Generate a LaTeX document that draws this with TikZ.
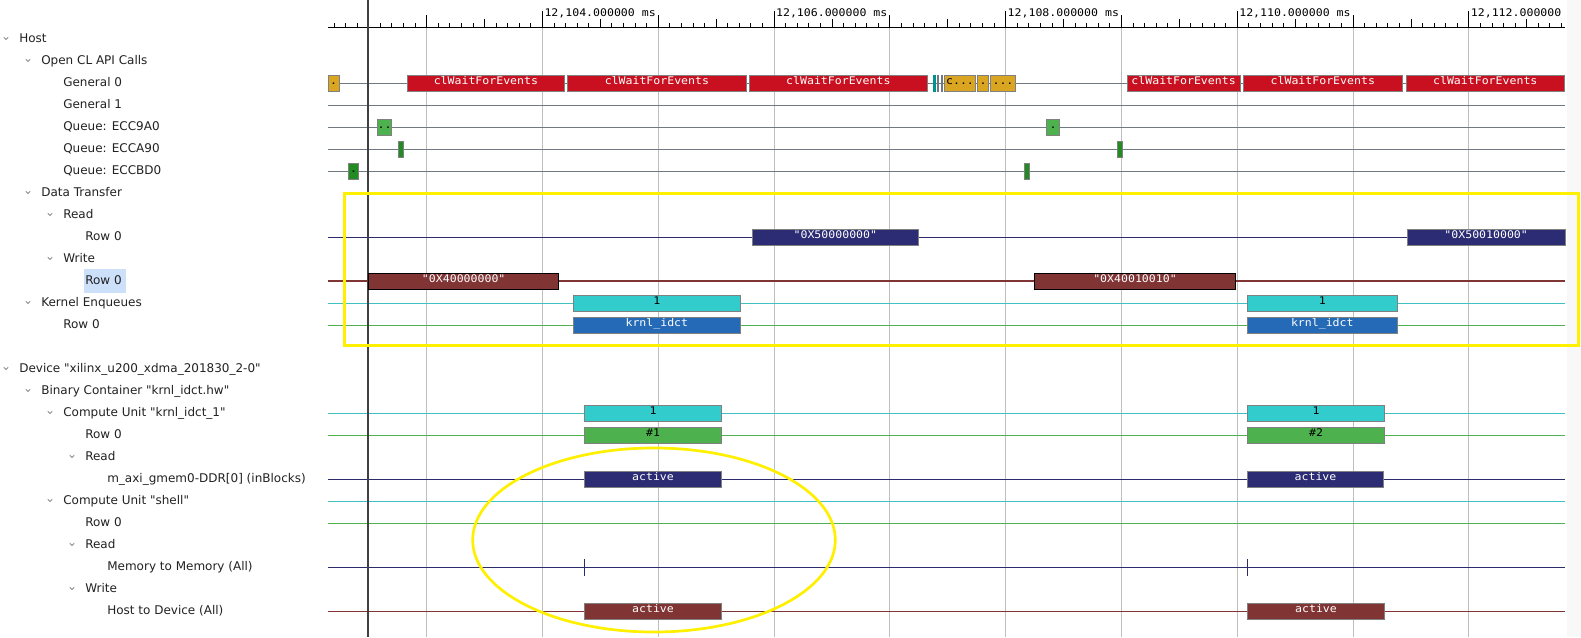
\documentclass[tikz,border=0pt]{standalone}
\usepackage{fontspec}
\setmainfont{DejaVu Sans}[Ligatures=TeXOff]
\newfontfamily\tlmono[FakeStretch=1.1,Ligatures=TeXOff]{DejaVu Sans Mono}

\definecolor{treetext}{RGB}{34,34,34}
\definecolor{chevgray}{RGB}{140,140,140}
\definecolor{gridgray}{RGB}{190,190,190}
\definecolor{cursorgray}{RGB}{64,64,64}
\definecolor{rowgray}{RGB}{112,121,130}
\definecolor{navyline}{RGB}{43,43,110}
\definecolor{navybar}{RGB}{44,44,117}
\definecolor{wine}{RGB}{128,52,52}
\definecolor{cyanline}{RGB}{64,192,192}
\definecolor{cyanbar}{RGB}{51,204,204}
\definecolor{greenline}{RGB}{80,176,80}
\definecolor{greenbar}{RGB}{77,178,77}
\definecolor{forest}{RGB}{34,139,34}
\definecolor{apired}{RGB}{200,16,32}
\definecolor{gold}{RGB}{218,165,32}
\definecolor{kblue}{RGB}{36,106,182}
\definecolor{tealmark}{RGB}{0,145,145}
\definecolor{bargray}{RGB}{128,128,128}
\definecolor{hilite}{RGB}{205,224,250}
\definecolor{annot}{RGB}{255,240,0}
\definecolor{faintpanel}{RGB}{248,248,248}

% one row of the tree on the left: name, row index, depth, has-chevron, label
\newcommand\treerow[5]{%
  \pgfmathsetmacro\tlY{39.3+22*#2}%
  \pgfmathsetmacro\tlX{19.3+22*#3}%
  \ifnum#4=1
    \pgfmathsetmacro\tlC{6+22*#3}%
    \draw[chev] (\tlC-2.2,\tlY-2.1) -- (\tlC,\tlY+0.3) -- (\tlC+2.2,\tlY-2.1);%
  \fi
  \node[treelbl] (#1) at (\tlX,\tlY+3.5) {#5};}

% horizontal track of a timeline row: row index, colour, width
\newcommand\trackline[3]{%
  \draw[draw=#2, line width=#3] (328,{39.3+22*#1}) -- (1565,{39.3+22*#1});}

% an event bar: [border] name, x from, x to, row index, fill, text colour, text
\newcommand\tlbar[8][bargray]{%
  \node[tlbarbox, draw=#1, fill=#6, text=#7, minimum width={(#4-#3)*1pt}]
    (#2) at (#3,{39.3+22*#5}) {#8};}

\begin{document}
\begin{tikzpicture}[x=1pt,y=-1pt,
  treelbl/.style={anchor=base west, inner sep=0pt, outer sep=0pt, text=treetext,
    font=\fontsize{12}{14}\selectfont},
  chev/.style={draw=chevgray, line width=0.8pt, line cap=round, line join=round},
  gridline/.style={draw=gridgray, line width=1pt},
  tickmark/.style={draw=black, line width=1pt},
  axislbl/.style={anchor=base west, inner sep=0pt, outer sep=0pt, text=black,
    font=\tlmono\fontsize{10.5}{12}\selectfont},
  tlbarbox/.style={anchor=west, rectangle, line width=0.9pt, inner sep=0pt, outer sep=0pt,
    minimum height=16pt, text height=9.5pt, text depth=6.5pt,
    font=\tlmono\fontsize{10.5}{12}\selectfont},
  annotline/.style={draw=annot, line width=2.7pt},
]
\useasboundingbox (0,0) rectangle (1581,637);
\fill[white] (0,0) rectangle (1581,637);
\fill[faintpanel] (1567,0) rectangle (1581,637);

% ---------- time axis ----------
\foreach \m in {3,...,12}{
  \draw[gridline] ({542.5+(\m-4)*115.8},27.3) -- ({542.5+(\m-4)*115.8},637);
}
\draw[draw=black, line width=1.3pt] (328,27.3) -- (1565,27.3);
\foreach \k in {22,...,128}{
  \pgfmathsetmacro\tx{542.5+(\k-40)*11.58}
  \pgfmathtruncatemacro\mten{mod(\k,10)}
  \pgfmathtruncatemacro\mfive{mod(\k,5)}
  \pgfmathtruncatemacro\mtw{mod(\k,20)}
  \ifnum\mtw=0 \def\ttop{11}\else\ifnum\mten=0 \def\ttop{15}\else\ifnum\mfive=0 \def\ttop{19.3}\else\def\ttop{23.3}\fi\fi\fi
  \draw[tickmark] (\tx,\ttop) -- (\tx,27.3);
}
\node[axislbl] (lbl104) at (544.5,16.7) {12,104.000000 ms};
\node[axislbl] (lbl106) at (776.1,16.7) {12,106.000000 ms};
\node[axislbl] (lbl108) at (1007.7,16.7) {12,108.000000 ms};
\node[axislbl] (lbl110) at (1239.3,16.7) {12,110.000000 ms};
\node[axislbl] (lbl112) at (1470.9,16.7) {12,112.000000};

% ---------- tree of rows ----------
\fill[hilite] (84,269.3) rectangle (126,293.3);
\treerow{tHost}{0}{0}{1}{Host}
\treerow{tOcl}{1}{1}{1}{Open CL API Calls}
\treerow{tGen0}{2}{2}{0}{General 0}
\treerow{tGen1}{3}{2}{0}{General 1}
\treerow{tQa}{4}{2}{0}{Queue: ECC9A0}
\treerow{tQb}{5}{2}{0}{Queue: ECCA90}
\treerow{tQc}{6}{2}{0}{Queue: ECCBD0}
\treerow{tDt}{7}{1}{1}{Data Transfer}
\treerow{tRd}{8}{2}{1}{Read}
\treerow{tRdRow}{9}{3}{0}{Row 0}
\treerow{tWr}{10}{2}{1}{Write}
\treerow{tWrRow}{11}{3}{0}{Row 0}
\treerow{tKe}{12}{1}{1}{Kernel Enqueues}
\treerow{tKeRow}{13}{2}{0}{Row 0}
\treerow{tDev}{15}{0}{1}{Device "xilinx\_u200\_xdma\_201830\_2-0"}
\treerow{tBin}{16}{1}{1}{Binary Container "krnl\_idct.hw"}
\treerow{tCu}{17}{2}{1}{Compute Unit "krnl\_idct\_1"}
\treerow{tCuRow}{18}{3}{0}{Row 0}
\treerow{tCuRd}{19}{3}{1}{Read}
\treerow{tAxi}{20}{4}{0}{m\_axi\_gmem0-DDR[0] (inBlocks)}
\treerow{tSh}{21}{2}{1}{Compute Unit "shell"}
\treerow{tShRow}{22}{3}{0}{Row 0}
\treerow{tShRd}{23}{3}{1}{Read}
\treerow{tM2m}{24}{4}{0}{Memory to Memory (All)}
\treerow{tShWr}{25}{3}{1}{Write}
\treerow{tH2d}{26}{4}{0}{Host to Device (All)}

% ---------- tracks ----------
\foreach \rw in {2,...,6}{\trackline{\rw}{rowgray}{1pt}}
\trackline{9}{navyline}{1pt}
\trackline{11}{wine}{2pt}
\trackline{12}{cyanline}{1pt}
\trackline{13}{greenline}{1pt}
\trackline{17}{cyanline}{1pt}
\trackline{18}{greenline}{1pt}
\trackline{20}{navyline}{1pt}
\trackline{21}{cyanline}{1pt}
\trackline{22}{greenline}{1pt}
\trackline{24}{navyline}{1pt}
\trackline{26}{wine}{1.3pt}

% time cursor
\draw[draw=cursorgray, line width=2.2pt] (368.3,0) -- (368.3,637);

% ---------- OpenCL API calls ----------
\tlbar{g0a}{328}{339.3}{2}{gold}{black}{.}
\tlbar{g0b}{407.3}{564.5}{2}{apired}{white}{clWaitForEvents}
\tlbar{g0c}{567.3}{746.5}{2}{apired}{white}{clWaitForEvents}
\tlbar{g0d}{749.4}{927.3}{2}{apired}{white}{clWaitForEvents}
\tlbar[tealmark]{g0m1}{933}{935.7}{2}{tealmark}{black}{}
\tlbar[rowgray]{g0m2}{937}{938.7}{2}{rowgray}{black}{}
\tlbar[rowgray]{g0m3}{941}{942.7}{2}{rowgray}{black}{}
\tlbar{g0e}{944.3}{975.7}{2}{gold}{black}{c...}
\tlbar{g0f}{977.3}{988.7}{2}{gold}{black}{.}
\tlbar{g0g}{990.3}{1015.7}{2}{gold}{black}{...}
\tlbar{g0h}{1127.1}{1240.1}{2}{apired}{white}{clWaitForEvents}
\tlbar{g0i}{1243.1}{1402.5}{2}{apired}{white}{clWaitForEvents}
\tlbar{g0j}{1406}{1564.5}{2}{apired}{white}{clWaitForEvents}

\tlbar{q1a}{377.3}{391.7}{4}{greenbar}{black}{..}
\tlbar{q1b}{1046.3}{1059.7}{4}{greenbar}{black}{.}
\tlbar{q2a}{398.3}{403.3}{5}{forest}{black}{}
\tlbar{q2b}{1117.5}{1122.5}{5}{forest}{black}{}
\tlbar{q3a}{348.3}{358.7}{6}{forest}{black}{.}
\tlbar{q3b}{1024.3}{1029.7}{6}{forest}{black}{}

% ---------- data transfer and kernel enqueues ----------
\tlbar{rd1}{752.5}{918.2}{9}{navybar}{white}{"0X50000000"}
\tlbar{rd2}{1407.3}{1565}{9}{navybar}{white}{"0X50010000"}
\tlbar[black]{wr1}{368.7}{558.7}{11}{wine}{white}{"0X40000000"}
\tlbar[black]{wr2}{1034.3}{1235.7}{11}{wine}{white}{"0X40010010"}
\tlbar{ke1}{573.3}{740.4}{12}{cyanbar}{black}{1}
\tlbar{ke2}{1247.3}{1397.3}{12}{cyanbar}{black}{1}
\tlbar{kr1}{573.3}{740.4}{13}{kblue}{white}{krnl\_idct}
\tlbar{kr2}{1247.3}{1397.3}{13}{kblue}{white}{krnl\_idct}

% ---------- device ----------
\tlbar{cu1}{584.3}{721.7}{17}{cyanbar}{black}{1}
\tlbar{cu2}{1247.3}{1384.7}{17}{cyanbar}{black}{1}
\tlbar{run1}{584.3}{721.7}{18}{greenbar}{black}{\#1}
\tlbar{run2}{1247.3}{1384.7}{18}{greenbar}{black}{\#2}
\tlbar{ax1}{584.3}{721.7}{20}{navybar}{white}{active}
\tlbar{ax2}{1247.3}{1383.7}{20}{navybar}{white}{active}
\draw[draw=navyline, line width=1pt] (584.3,559) -- (584.3,575.7);
\draw[draw=navyline, line width=1pt] (1247.3,559) -- (1247.3,575.7);
\tlbar{hd1}{584.3}{721.7}{26}{wine}{white}{active}
\tlbar{hd2}{1247.3}{1384.7}{26}{wine}{white}{active}

% ---------- highlight marks ----------
\draw[annotline] (344.3,193.3) rectangle (1578.5,345.3);
\draw[annotline] (654,540) ellipse [x radius=181.3, y radius=92];
\end{tikzpicture}
\end{document}
